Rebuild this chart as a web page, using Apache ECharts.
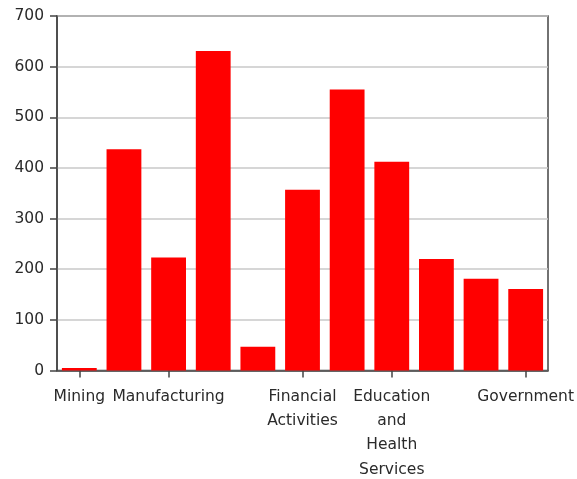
<!DOCTYPE html>
<html>
<head>
<meta charset="utf-8">
<script src="https://cdn.jsdelivr.net/npm/echarts@6/dist/echarts.min.js"></script>
<style>html,body{margin:0;padding:0;background:#fff;}#c{width:577px;height:479px;}</style>
</head>
<body>
<div id="c"></div>
<script>
const categories = ["Mining","Construction","Manufacturing","Trade, Transportation, and Utilities","Information","Financial Activities","Professional and Business Services","Education and Health Services","Leisure and Hospitality","Other Services","Government"];
const tickLabels = ["Mining","","Manufacturing","","","Financial\nActivities","","Education\nand\nHealth\nServices","","","Government"];
const values = [5, 437, 223, 631, 47, 357, 555, 412, 220, 181, 161];
const yTicks = [0, 100, 200, 300, 400, 500, 600, 700];

const chart = echarts.init(document.getElementById('c'), null, {renderer: 'canvas'});
const font = 'DejaVu Sans';
chart.setOption({
  animation: false,
  grid: {left: 57, right: 29, top: 16, bottom: 108.5, outerBoundsMode: 'none', containLabel: false,
    show: true, borderColor: '#444', borderWidth: 1.5, backgroundColor: 'transparent'},
  xAxis: {
    type: 'category',
    data: categories,
    axisLine: {lineStyle: {color: '#444', width: 1.5}},
    axisTick: {show: true, alignWithLabel: true, length: 7, lineStyle: {color: '#444', width: 1.5},
      interval: function (i) { return tickLabels[i] !== ''; }},
    axisLabel: {interval: 0, color: '#2a2a2a', fontFamily: font, fontSize: 15.5, lineHeight: 24.3, margin: 14,
      formatter: function (v, i) { return tickLabels[i]; }},
    splitLine: {show: false}
  },
  yAxis: {
    type: 'value',
    min: yTicks[0], max: yTicks[yTicks.length - 1], interval: 100,
    axisLine: {show: true, lineStyle: {color: '#444', width: 1.5}},
    axisTick: {show: true, length: 7, lineStyle: {color: '#444', width: 1.5}},
    axisLabel: {color: '#2a2a2a', fontFamily: font, fontSize: 15.5, margin: 13},
    splitLine: {show: true, lineStyle: {color: '#c8c8c8', width: 1.5}}
  },
  series: [{
    type: 'bar',
    data: values,
    barWidth: '78%',
    itemStyle: {color: '#ff0000'}
  }]
});
</script>
</body>
</html>
